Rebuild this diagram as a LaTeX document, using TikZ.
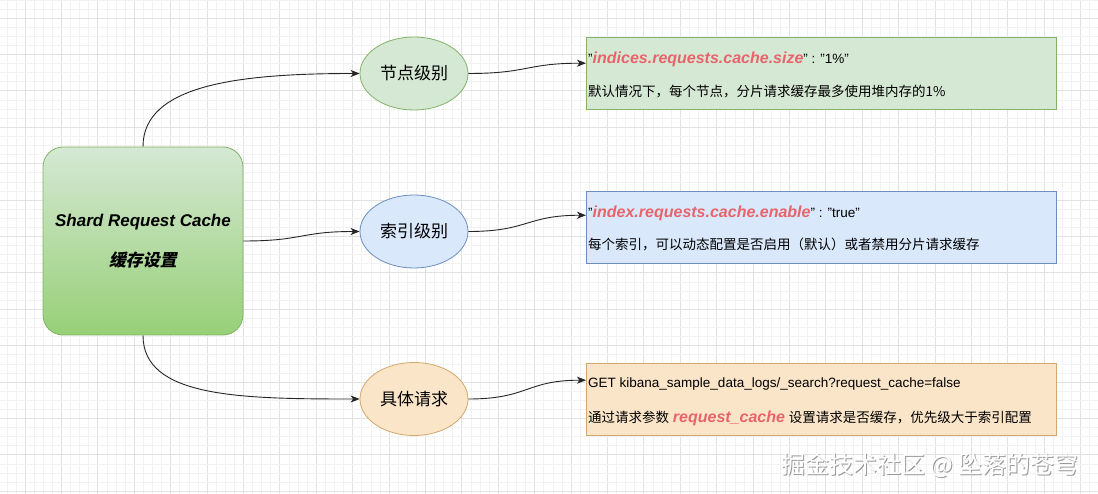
\documentclass[tikz,border=0pt]{standalone}
\usepackage{fontspec}
\setmainfont{Liberation Sans}
\newfontfamily\cjk{Noto Sans CJK SC}
\newfontfamily\cjkbi{Noto Sans CJK SC Bold}[FakeSlant=0.2]
\usetikzlibrary{arrows.meta,calc,shapes.geometric}
\definecolor{gfill}{HTML}{D5E8D4}
\definecolor{gline}{HTML}{82B366}
\definecolor{gdark}{HTML}{97D077}
\definecolor{bfill}{HTML}{DAE8FC}
\definecolor{bline}{HTML}{6C8EBF}
\definecolor{ofill}{HTML}{FAE5C9}
\definecolor{oline}{HTML}{D0A86C}
\definecolor{redtxt}{HTML}{E8646A}
\definecolor{gridmajor}{HTML}{E2E2E2}
\definecolor{gridminor}{HTML}{F2F2F2}
\begin{document}
\begin{tikzpicture}[x=1pt,y=-1pt,
  ell/.style={ellipse, minimum width=108pt, minimum height=73pt, inner sep=0pt, line width=0.8pt, font=\cjk\fontsize{17}{20}\selectfont},
  tbox/.style={rectangle, minimum width=470pt, minimum height=72pt, inner sep=0pt, line width=0.8pt, anchor=north west},
  txt/.style={inner sep=0pt, anchor=base west, font=\fontsize{13.5}{16}\selectfont},
  conn/.style={-{Stealth[length=9pt,width=7pt,inset=2.5pt]}, line width=0.9pt, draw=black!85},
  redit/.style={},
]
\useasboundingbox (0,0) rectangle (1098,494);
\fill[white] (0,0) rectangle (1098,494);
% grid
\foreach \k in {0,...,122}{
  \pgfmathsetmacro{\xx}{-11.4+9.1*\k}
  \pgfmathtruncatemacro{\m}{mod(\k,4)}
  \ifnum\m=0
    \draw[gridmajor, line width=0.7pt] (\xx,0) -- (\xx,494);
  \else
    \draw[gridminor, line width=0.5pt] (\xx,0) -- (\xx,494);
  \fi
}
\foreach \k in {0,...,57}{
  \pgfmathsetmacro{\yy}{-18.4+9.1*\k}
  \pgfmathtruncatemacro{\m}{mod(\k,4)}
  \ifnum\m=0
    \draw[gridmajor, line width=0.7pt] (0,\yy) -- (1098,\yy);
  \else
    \draw[gridminor, line width=0.5pt] (0,\yy) -- (1098,\yy);
  \fi
}
% main box
\node[rectangle, rounded corners=20pt, minimum width=200pt, minimum height=188pt, inner sep=0pt,
      top color=gfill, bottom color=gdark, draw=gline, line width=0.8pt, align=center,
      font=\fontsize{17}{20}\selectfont\bfseries\itshape] (main) at (143,241)
  {Shard Request Cache\\[20pt]{\cjkbi 缓存设置}};
% ellipses
\node[ell, fill=gfill, draw=gline] (e1) at (414,73.5) {节点级别};
\node[ell, fill=bfill, draw=bline] (e2) at (414,231.5) {索引级别};
\node[ell, fill=ofill, draw=oline] (e3) at (414,399) {具体请求};
% text boxes
\node[tbox, fill=gfill, draw=gline] (gbox) at (586,37) {};
\node[tbox, fill=bfill, draw=bline] (bbox) at (586,191) {};
\node[tbox, fill=ofill, draw=oline] (obox) at (586,363) {};
\node[txt] (g1) at (588,64) {"{\fontsize{16}{16}\selectfont\bfseries\itshape\color{redtxt}indices.requests.cache.size}" : "1\%"};
\node[txt] (g2) at (588,97) {\cjk 默认情况下，每个节点，分片请求缓存最多使用堆内存的1\%};
\node[txt] (b1) at (588,218) {"{\fontsize{16}{16}\selectfont\bfseries\itshape\color{redtxt}index.requests.cache.enable}" : "true"};
\node[txt] (b2) at (588,250) {\cjk 每个索引，可以动态配置是否启用（默认）或者禁用分片请求缓存};
\node[txt] (o1) at (588,387) {GET kibana\_sample\_data\_logs/\_search?request\_cache=false};
\node[txt] (o2) at (588,422) {{\cjk 通过请求参数} {\fontsize{16}{16}\selectfont\bfseries\itshape\color{redtxt}request\_cache} {\cjk 设置请求是否缓存，优先级大于索引配置}};
% target coordinates
\coordinate (gt) at ($(gbox.north west)!0.36!(gbox.south west)$);
\coordinate (bt) at ($(bbox.north west)!0.333!(bbox.south west)$);
\coordinate (ot) at ($(obox.north west)!0.236!(obox.south west)$);
% connectors
\draw[conn] (main.north) .. controls +(0,-62) and +(-120,0) .. (e1.west);
\draw[conn] (main.east) .. controls +(60,0) and +(-60,0) .. (e2.west);
\draw[conn] (main.south) .. controls +(0,62) and +(-120,0) .. (e3.west);
\draw[conn] (e1.east) .. controls +(60,0) and +(-60,0) .. (gt);
\draw[conn] (e2.east) .. controls +(60,0) and +(-60,0) .. (bt);
\draw[conn] (e3.east) .. controls +(60,0) and +(-60,0) .. (ot);
% watermark
\node[inner sep=0pt, text=black!40, font=\cjk\fontsize{24}{24}\selectfont] (wms) at (931.2,466.2) {掘金技术社区 @ 坠落的苍穹};
\node[inner sep=0pt, text=white, font=\cjk\fontsize{24}{24}\selectfont] (wm) at (930,465) {掘金技术社区 @ 坠落的苍穹};
\end{tikzpicture}
\end{document}
